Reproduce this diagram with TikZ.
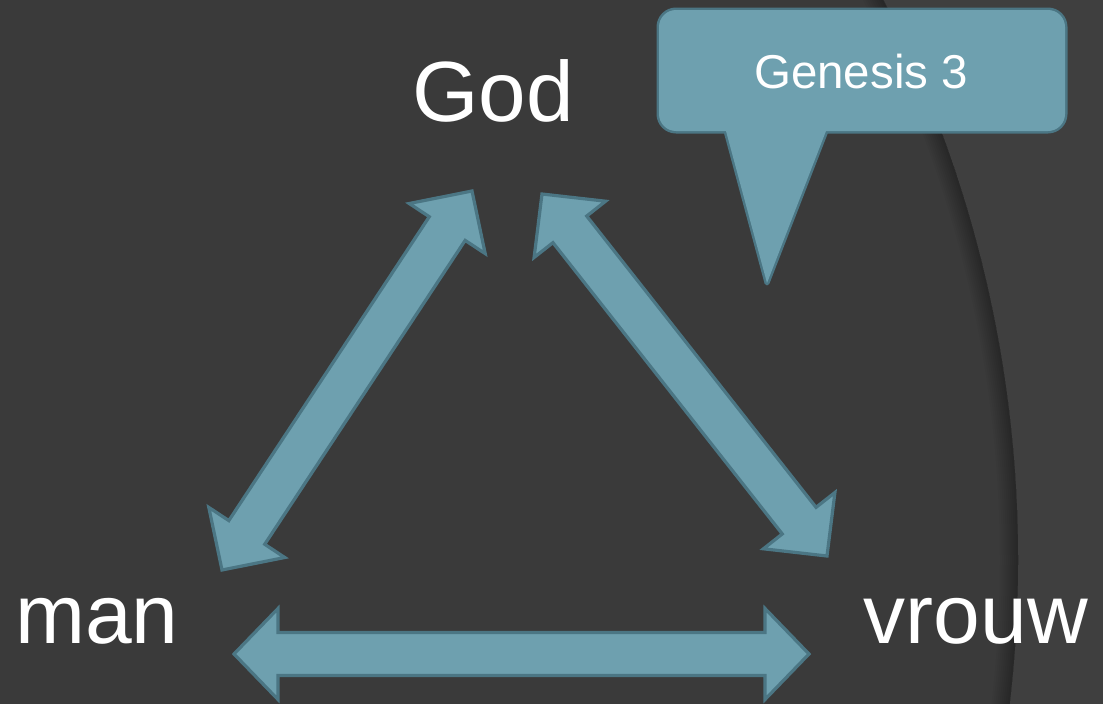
\documentclass[tikz,border=0pt]{standalone}
\usepackage{fontspec}
\setmainfont{Liberation Sans}
\usetikzlibrary{calc}
\definecolor{bg}{HTML}{3A3A3A}
\definecolor{bgr}{HTML}{3F3F3F}
\definecolor{tealfill}{HTML}{6EA0AF}
\definecolor{tealdark}{HTML}{4B7684}
\tikzset{
  blockarrow/.style={fill=tealfill, draw=tealdark, line width=3.2pt, line join=miter},
  bigtext/.style={text=white, inner sep=0pt, anchor=base, font=\fontsize{84}{90}\selectfont},
}
% #1 tip A, #2 tip B, #3 half shaft width, #4 half head width, #5 head length
\newcommand{\blockarr}[5]{%
  \coordinate (ba) at ($(#1)!#5!(#2)$);
  \coordinate (bb) at ($(#2)!#5!(#1)$);
  \draw[blockarrow] (#1) -- ($(ba)!#4!90:(#2)$) -- ($(ba)!#3!90:(#2)$)
     -- ($(bb)!#3!-90:(#1)$) -- ($(bb)!#4!-90:(#1)$) -- (#2)
     -- ($(bb)!#4!90:(#1)$) -- ($(bb)!#3!90:(#1)$)
     -- ($(ba)!#3!-90:(#2)$) -- ($(ba)!#4!-90:(#2)$) -- cycle;
}
\begin{document}
\begin{tikzpicture}[x=1pt,y=-1pt]
\useasboundingbox (0,0) rectangle (1103,704);
\fill[bg] (0,0) rectangle (1103,704);
% background arc
\begin{scope}
  \clip (0,0) rectangle (1103,704);
  \fill[bgr, even odd rule] (-400,-200) rectangle (1300,900) (-211,560) circle[radius=1229pt];
  \foreach \w in {2,4,...,18}{
    \pgfmathsetmacro{\rr}{1229-\w/2}
    \draw[black, opacity=0.03, line width=\w pt] (-211,560) circle[radius=\rr pt];
  }
\end{scope}

% labels
\node[bigtext, font=\fontsize{85.5}{90}\selectfont] (god) at (493,121) {God};
\node[bigtext, anchor=base west] (man) at (15,643) {man};
\node[bigtext] (vrouw) at (976,643) {vrouw};

% arrow end points
\coordinate (manUp) at (222,570);
\coordinate (godL) at (472,191);
\coordinate (godR) at (542,194);
\coordinate (vrouwUp) at (827,556);
\coordinate (manSide) at (234,654);
\coordinate (vrouwSide) at (809,654);

\blockarr{manUp}{godL}{21.5pt}{45.5pt}{45pt}
\blockarr{godR}{vrouwUp}{21.5pt}{45.5pt}{45pt}
\blockarr{manSide}{vrouwSide}{21.5pt}{45.5pt}{44pt}

% callout
\draw[tealdark, line width=5pt, rounded corners=17pt] (659,10) rectangle (1065,131);
\draw[tealdark, line width=5pt, line join=round] (726,131) -- (767,283) -- (826,131) -- cycle;
\fill[tealfill, rounded corners=17pt] (659,10) rectangle (1065,131);
\fill[tealfill] (726,131) -- (767,283) -- (826,131) -- cycle;
\node[bigtext, font=\fontsize{47.5}{50}\selectfont] (gen) at (861,88) {Genesis 3};
\end{tikzpicture}
\end{document}
